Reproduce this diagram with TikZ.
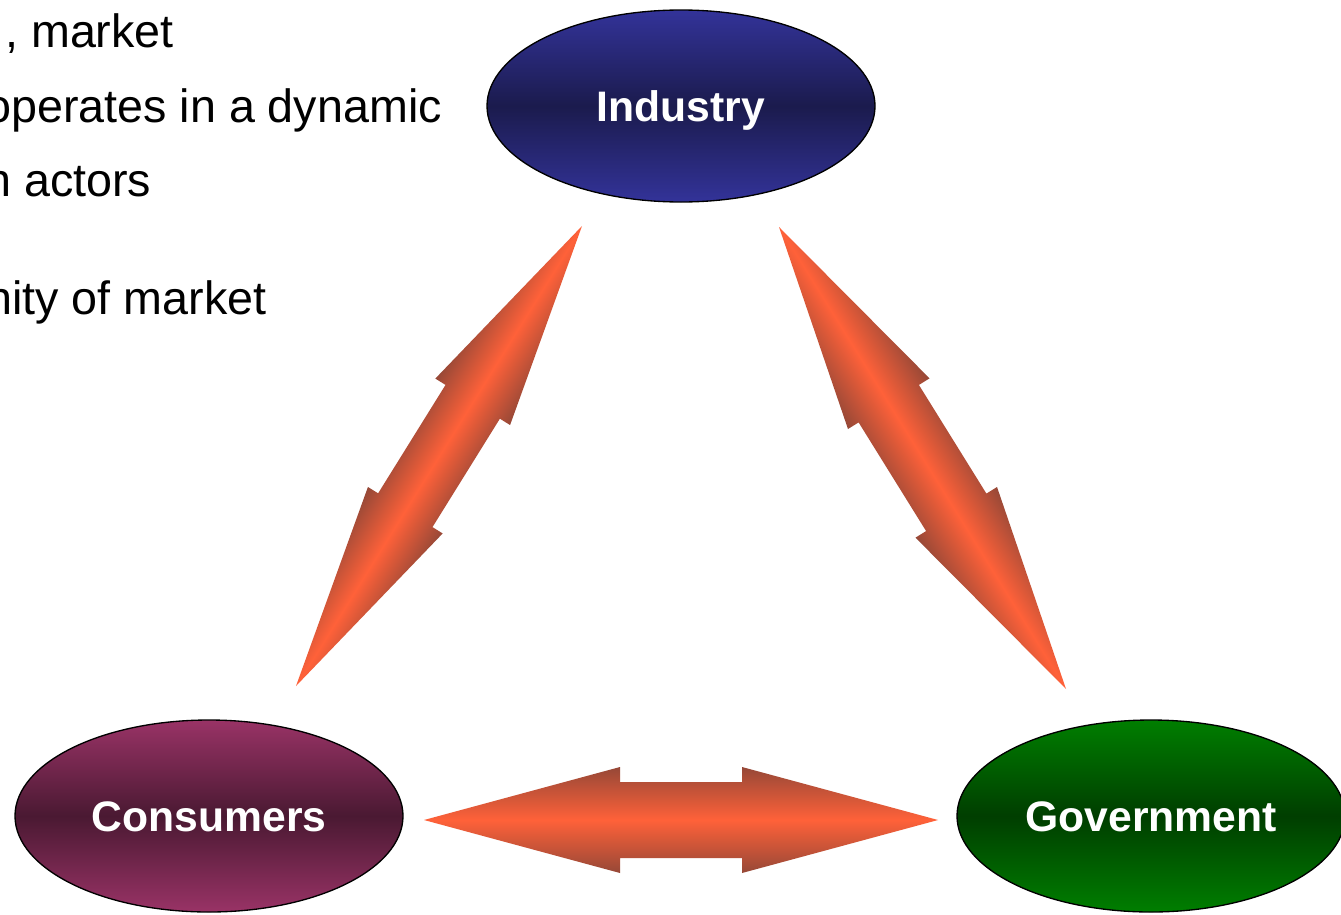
\documentclass[tikz,border=0pt]{standalone}
\usepackage{fontspec}
\setmainfont{Liberation Sans}
\usetikzlibrary{calc,shapes.geometric}

\definecolor{arrowcore}{RGB}{255,97,57}
\definecolor{arrowedge}{RGB}{150,72,55}
\definecolor{indtop}{RGB}{51,51,153}
\definecolor{indmid}{RGB}{27,27,77}
\definecolor{contop}{RGB}{153,51,102}
\definecolor{conmid}{RGB}{74,25,50}
\definecolor{govtop}{RGB}{0,126,0}
\definecolor{govmid}{RGB}{0,62,0}

\tikzset{
  actor/.style={ellipse, draw=black, line width=1pt, inner sep=0pt,
    minimum width=291pt, minimum height=144pt, text=white,
    font=\fontsize{32}{36}\selectfont\bfseries, text height=23pt, text depth=0pt},
  bodytext/.style={anchor=base west, inner sep=0pt, font=\fontsize{35}{40}\selectfont},
  arrowshade/.style={top color=arrowedge, bottom color=arrowedge, middle color=arrowcore},
}

% Double-headed block arrow between two named points, shaded across its width.
% #1, #2: tip points; #3 head length, #4 head width, #5 shaft width (in px units)
\newcommand\blockarrow[5]{%
  \pgfmathanglebetweenpoints{\pgfpointanchor{#1}{center}}{\pgfpointanchor{#2}{center}}%
  \edef\baAng{\pgfmathresult}%
  \pgfpointdiff{\pgfpointanchor{#1}{center}}{\pgfpointanchor{#2}{center}}%
  \pgfgetlastxy{\baDX}{\baDY}%
  \pgfmathveclen{\baDX}{\baDY}%
  \pgfmathsetmacro\baH{\pgfmathresult/2}%
  \pgfmathsetmacro\baB{\baH-#3*0.75}%
  \pgfmathsetmacro\baHW{#4*0.75/2}%
  \pgfmathsetmacro\baSW{#5*0.75/2}%
  \begin{scope}[transform canvas={shift={($(#1)!0.5!(#2)$)},rotate=\baAng}]
    \shade[arrowshade] (-\baH pt,0pt) -- (-\baB pt,\baHW pt) -- (-\baB pt,\baSW pt)
      -- (\baB pt,\baSW pt) -- (\baB pt,\baHW pt) -- (\baH pt,0pt)
      -- (\baB pt,-\baHW pt) -- (\baB pt,-\baSW pt) -- (-\baB pt,-\baSW pt)
      -- (-\baB pt,-\baHW pt) -- cycle;
  \end{scope}%
}

\begin{document}
\begin{tikzpicture}[x=0.75pt,y=-0.75pt]
\useasboundingbox (0,0) rectangle (1341,914);
\fill[white] (0,0) rectangle (1341,914);
\clip (0,0) rectangle (1341,914);

% bullet text running off the left edge
\node[bodytext] (t1) at (5,47) {, market};
\node[bodytext] (t2) at (-15,122) {operates in a dynamic};
\node[bodytext] (t3) at (-15,196) {n actors};
\node[bodytext] (t4) at (-14,314) {nity of market};

% actors
\node[actor, top color=indtop, bottom color=indtop, middle color=indmid] (ind) at (681,106) {Industry};
\node[actor, top color=contop, bottom color=contop, middle color=conmid] (cons) at (209,816) {Consumers};
\node[actor, top color=govtop, bottom color=govtop, middle color=govmid] (gov) at (1151,816) {Government};

% arrow tips
\coordinate (ciC) at (296,686);
\coordinate (ciI) at (582,226);
\coordinate (igI) at (779,227);
\coordinate (igG) at (1066,689);
\coordinate (cgC) at (424,820);
\coordinate (cgG) at (938,820);

\blockarrow{ciC}{ciI}{207}{88}{64}
\blockarrow{igI}{igG}{208}{96}{71}
\blockarrow{cgC}{cgG}{196}{106}{76}
\end{tikzpicture}
\end{document}
